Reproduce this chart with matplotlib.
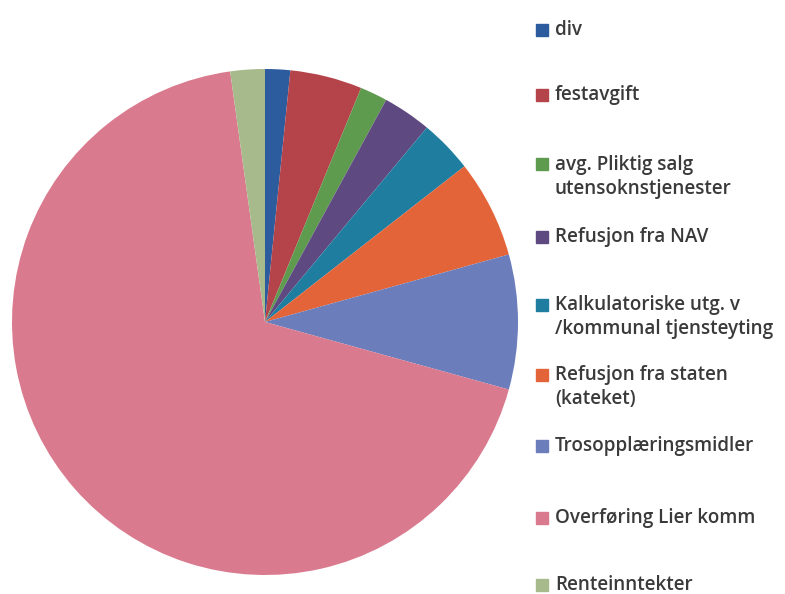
import matplotlib
matplotlib.use("Agg")
import matplotlib.pyplot as plt
from matplotlib.patches import Rectangle

# --- data (shares, in %) ---
labels = [
    "div",
    "festavgift",
    "avg. Pliktig salg\nutensoknstjenester",
    "Refusjon fra NAV",
    "Kalkulatoriske utg. v\n/kommunal tjensteyting",
    "Refusjon fra staten\n(kateket)",
    "Trosopplæringsmidler",
    "Overføring Lier komm",
    "Renteinntekter",
]
shares = [1.6, 4.6, 1.75, 3.1, 3.4, 6.25, 8.6, 68.5, 2.2]
colors = ["#2C5B9E", "#B5444A", "#5E9B4E", "#5E4A80", "#1F7DA0",
          "#E4643A", "#6B7DBA", "#DA7A8E", "#A7BA8C"]

# legend slot centres (pixels from top)
legend_y = [30, 95, 177, 237, 317, 387, 446, 518, 585]

W, H = 785, 594
fig = plt.figure(figsize=(W / 100, H / 100), dpi=100)

# pie: centre (265, 322) px, radius 253 px
cx, cy, r = 265, 322, 253
ax = fig.add_axes([(cx - r) / W, (H - cy - r) / H, 2 * r / W, 2 * r / H])
ax.pie(shares, colors=colors, startangle=90, counterclock=False,
       radius=1, wedgeprops=dict(linewidth=0))
ax.set_xlim(-1, 1)
ax.set_ylim(-1, 1)
ax.set_aspect("equal")
ax.axis("off")

# legend, drawn by hand to keep Excel-like spacing
for lab, col, y in zip(labels, colors, legend_y):
    nlines = lab.count("\n") + 1
    first_y = y - (nlines - 1) * 12.5
    fig.patches.append(Rectangle((536 / W, 1 - (first_y + 6) / H), 12 / W, 12 / H,
                                 transform=fig.transFigure, color=col))
    fig.text(555 / W, 1 - y / H, lab, ha="left", va="center",
             fontsize=13.6, color="#3A3A3A", linespacing=1.3,
             family=["Open Sans", "DejaVu Sans"], fontweight="semibold")

fig.savefig("out.png", dpi=100)
